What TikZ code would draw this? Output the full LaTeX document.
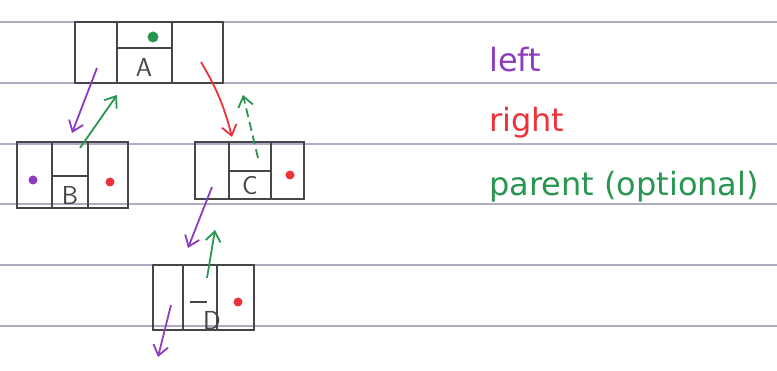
\documentclass[tikz,border=0pt]{standalone}
\usepackage{fontspec}
\newfontfamily\handfont{DejaVu Sans}
\usetikzlibrary{arrows.meta}
\definecolor{pencil}{RGB}{70,70,70}
\definecolor{rule}{RGB}{175,172,195}
\definecolor{lpurple}{RGB}{140,60,190}
\definecolor{rred}{RGB}{238,50,60}
\definecolor{pgreen}{RGB}{40,150,80}
\tikzset{
  cell/.style={draw=pencil, line width=2.8pt, inner sep=0pt, minimum height=#1},
  keytext/.style={text=pencil, font=\sffamily\fontsize{26}{26}\selectfont, inner sep=0pt},
  leftptr/.style={draw=lpurple, line width=1.8pt, -{Straight Barb[length=10pt,width=15pt]}},
  rightptr/.style={draw=rred, line width=1.8pt, -{Straight Barb[length=10pt,width=15pt]}},
  parentptr/.style={draw=pgreen, line width=1.8pt, -{Straight Barb[length=10pt,width=15pt]}},
  nulldot/.style={circle, fill=#1, inner sep=0pt, minimum size=9pt},
  legend/.style={anchor=base west, inner sep=0pt, font=\handfont\fontsize{32}{32}\selectfont}
}
\begin{document}
\begin{tikzpicture}[x=1pt,y=-1pt]
\useasboundingbox[fill=white] (0,0) rectangle (777,371);
% ruled paper
\foreach \yy in {22,83,144,204,265,326}
  \draw[rule, line width=1.1pt] (0,\yy) -- (777,\yy);

% node A
\node[cell=61pt, minimum width=42pt] (Al) at (96,52.5) {};
\node[cell=61pt, minimum width=55pt] (Am) at (144.5,52.5) {};
\node[cell=61pt, minimum width=51pt] (Ar) at (197.5,52.5) {};
\draw[pencil, line width=2.8pt] (Am.west |- 0,48) -- (Am.east |- 0,48);
\node[keytext] (Akey) at (144,67) {A};
\node[nulldot=pgreen, minimum size=11pt] (Apar) at (153,37) {};

% node B
\node[cell=66pt, minimum width=35pt] (Bl) at (34.5,175) {};
\node[cell=66pt, minimum width=36pt] (Bm) at (70,175) {};
\node[cell=66pt, minimum width=40pt] (Br) at (108,175) {};
\draw[pencil, line width=2.8pt] (Bm.west |- 0,176) -- (Bm.east |- 0,176);
\node[keytext] (Bkey) at (70,195) {B};
\node[nulldot=lpurple] (Bleft) at (33,180) {};
\node[nulldot=rred] (Bright) at (110,182) {};

% node C
\node[cell=57pt, minimum width=34pt] (Cl) at (212,170.5) {};
\node[cell=57pt, minimum width=42pt] (Cm) at (250,170.5) {};
\node[cell=57pt, minimum width=33pt] (Cr) at (287.5,170.5) {};
\draw[pencil, line width=2.8pt] (Cm.west |- 0,171) -- (Cm.east |- 0,171);
\node[keytext] (Ckey) at (250,186) {C};
\node[nulldot=rred] (Cright) at (290,175) {};

% node D
\node[cell=65pt, minimum width=30pt] (Dl) at (168,297.5) {};
\node[cell=65pt, minimum width=34pt] (Dm) at (200,297.5) {};
\node[cell=65pt, minimum width=37pt] (Dr) at (235.5,297.5) {};
\draw[pencil, line width=2.8pt] (190,302) -- (207,302);
\node[keytext] (Dkey) at (212,320) {D};
\node[nulldot=rred] (Dright) at (238,302) {};

% pointer anchors
\coordinate (aL) at (97,68);
\coordinate (bTop) at (72,133);
\coordinate (bPar) at (80,148);
\coordinate (aBot) at (117,95);
\coordinate (aR) at (201,62);
\coordinate (cTop) at (232,137);
\coordinate (cPar) at (258,158);
\coordinate (aBot2) at (243,95);
\coordinate (cL) at (212,187);
\coordinate (dTop) at (188,248);
\coordinate (dPar) at (207,278);
\coordinate (cBot) at (215,230);
\coordinate (dL) at (171,305);
\coordinate (dOut) at (158,357);

\draw[leftptr] (aL) -- (bTop);
\draw[parentptr] (bPar) -- (aBot);
\draw[rightptr] (aR) to[bend left=8] (cTop);
\draw[parentptr, dash pattern=on 9pt off 5pt] (cPar) -- (aBot2);
\draw[leftptr] (cL) -- (dTop);
\draw[parentptr] (dPar) -- (cBot);
\draw[leftptr] (dL) -- (dOut);

% legend
\node[legend, text=lpurple] (lgleft) at (489,72) {left};
\node[legend, text=rred] (lgright) at (489,132) {right};
\node[legend, text=pgreen] (lgparent) at (489,196) {parent (optional)};
\end{tikzpicture}
\end{document}
